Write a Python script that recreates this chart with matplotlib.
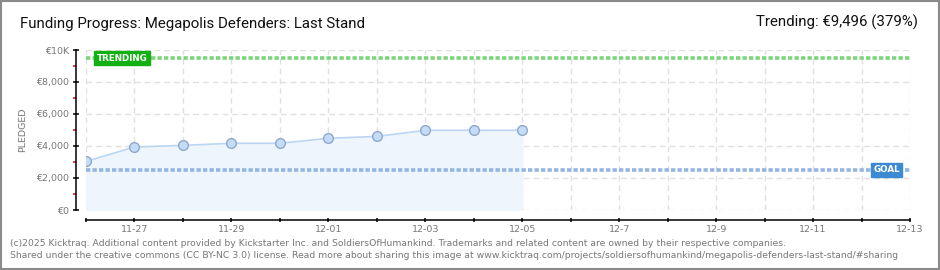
"""
Kicktraq-style funding progress chart for Megapolis Defenders: Last Stand.
"""

import matplotlib
matplotlib.use("Agg")
import matplotlib.pyplot as plt
from matplotlib.patches import Rectangle

# -----------------------------
# Data
# -----------------------------
day_labels = ["11-26", "11-27", "11-28", "11-29", "11-30", "12-01", "12-02",
              "12-03", "12-04", "12-05", "12-06", "12-7", "12-08", "12-9",
              "12-10", "12-11", "12-12", "12-13"]
shown_labels = ["11-27", "11-29", "12-01", "12-03", "12-05",
                "12-7", "12-9", "12-11", "12-13"]

pledged = [3040, 3940, 4040, 4170, 4170, 4480, 4600, 4980, 4980, 4980]
goal = 2500
trending = 9496
trending_pct = 379

title = "Funding Progress: Megapolis Defenders: Last Stand"
footer_1 = ("(c)2025 Kicktraq. Additional content provided by Kickstarter Inc. and "
            "SoldiersOfHumankind. Trademarks and related content are owned by their "
            "respective companies.")
footer_2 = ("Shared under the creative commons (CC BY-NC 3.0) license. Read more about "
            "sharing this image at www.kicktraq.com/projects/soldiersofhumankind/"
            "megapolis-defenders-last-stand/#sharing")

# -----------------------------
# Figure
# -----------------------------
W, H = 940, 270
fig = plt.figure(figsize=(W / 100, H / 100), dpi=100)
fig.patch.set_facecolor("white")

# outer border
fig.add_artist(Rectangle((0.001, 0.002), 0.998, 0.995, transform=fig.transFigure,
                         fill=False, edgecolor="#8a8a8a", linewidth=1.5))

ax = fig.add_axes([86 / W, 1 - 210 / H, (910 - 86) / W, 160 / H])
n_days = len(day_labels)
x_all = list(range(n_days))
x_data = x_all[:len(pledged)]

ax.set_xlim(0, n_days - 1)
ax.set_ylim(0, 10000)

# grid
for xv in x_all:
    ax.axvline(xv, color="#e0e0e0", linestyle=(0, (4, 3)), linewidth=1, zorder=0)
for yv in range(0, 10001, 2000):
    ax.axhline(yv, color="#e0e0e0", linestyle=(0, (4, 3)), linewidth=1, zorder=0)

# pledged area + line + markers
ax.fill_between(x_data, pledged, 0, color="#eef5fd", zorder=1)
ax.plot(x_data, pledged, color="#bcd6f2", linewidth=1.2, zorder=3)
ax.plot(x_data, pledged, linestyle="none", marker="o", markersize=7,
        markerfacecolor="#c4dcf7", markeredgecolor="#8ea9c9",
        markeredgewidth=1, zorder=4)

# goal and trending lines
ax.axhline(goal, color="#94b5e0", linestyle=(0, (1.2, 0.6)), linewidth=2.6, zorder=2)
ax.axhline(trending, color="#7dd47d", linestyle=(0, (1.2, 0.6)), linewidth=2.6, zorder=2)

ax.text(0.22, trending, "TRENDING", color="white", fontsize=6.3, fontweight="bold",
        va="center", ha="left", zorder=6,
        bbox=dict(boxstyle="square,pad=0.25", facecolor="#13b013", edgecolor="#13b013"))
ax.text(16.25, goal, "GOAL", color="white", fontsize=6.3, fontweight="bold",
        va="center", ha="left", zorder=6,
        bbox=dict(boxstyle="square,pad=0.25", facecolor="#3d8ad4", edgecolor="#3d8ad4"))

# spines (offsets in points: 7.2pt ~ 10px)
for side in ["top", "right"]:
    ax.spines[side].set_visible(False)
ax.spines["left"].set_position(("outward", 7.2))
ax.spines["bottom"].set_position(("outward", 7.2))
ax.spines["left"].set_linewidth(1.1)
ax.spines["bottom"].set_linewidth(1.1)

# ticks
ax.set_xticks(x_all)
ax.set_xticklabels([lab if lab in shown_labels else "" for lab in day_labels])
ax.tick_params(axis="x", direction="inout", length=3.5, width=1.1,
               labelsize=6.8, labelcolor="#777777", pad=1.5)

ax.set_yticks(range(0, 10001, 2000))
ax.set_yticklabels(["€0", "€2,000", "€4,000", "€6,000", "€8,000", "€10K"])
ax.set_yticks(range(1000, 10000, 2000), minor=True)
ax.tick_params(axis="y", which="major", direction="inout", length=4.5, width=1.1,
               labelsize=6.8, labelcolor="#777777", pad=2.5)
ax.tick_params(axis="y", which="minor", direction="out", length=2.5, width=1.1,
               color="#e00000")

ax.set_ylabel("PLEDGED", fontsize=6.8, color="#777777", labelpad=7)

# texts
fig.text(20 / W, 1 - 24 / H, title, fontsize=10.8, ha="left", va="center",
         color="#111111", family=["Roboto", "DejaVu Sans"])
fig.text(918 / W, 1 - 22 / H, f"Trending: €{trending:,} ({trending_pct}%)",
         fontsize=10.8, ha="right", va="center", color="#111111",
         family=["Roboto", "DejaVu Sans"])

fig.text(10 / W, 1 - 243 / H, footer_1, fontsize=6.65, ha="left", va="center",
         color="#777777")
fig.text(10 / W, 1 - 256 / H, footer_2, fontsize=6.65, ha="left", va="center",
         color="#777777")

fig.savefig("out.png", dpi=100)
